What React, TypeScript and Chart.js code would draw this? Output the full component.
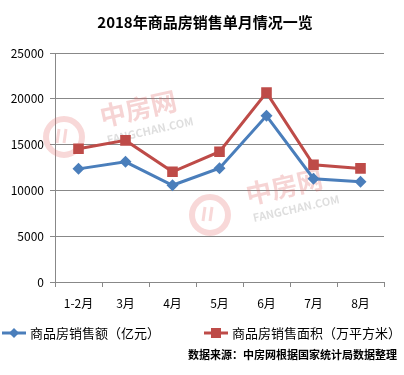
import React, { useEffect, useRef } from "react";
import { Chart, registerables } from "chart.js";

Chart.register(...registerables);

const title = "2018年商品房销售单月情况一览";
const categories = ["1-2月", "3月", "4月", "5月", "6月", "7月", "8月"];
const salesAmount = [12350, 13120, 10560, 12420, 18150, 11280, 10950];
const salesArea = [14550, 15460, 12030, 14220, 20670, 12800, 12400];
const seriesNames = ["商品房销售额（亿元）", "商品房销售面积（万平方米）"];
const yTicks = [0, 5000, 10000, 15000, 20000, 25000];
const sourceNote = "数据来源：中房网根据国家统计局数据整理";

const FONT = "'Noto Sans CJK SC', 'Noto Sans', sans-serif";
const BLUE = "#4A7EBB";
const RED = "#BE4B48";

function drawWatermark(ctx: CanvasRenderingContext2D, cx: number, cy: number) {
  ctx.save();
  ctx.globalAlpha = 0.28;
  ctx.strokeStyle = "#E57373";
  ctx.lineWidth = 6;
  ctx.beginPath();
  ctx.arc(cx, cy, 18, 0, Math.PI * 2);
  ctx.stroke();
  ctx.lineWidth = 3;
  ctx.beginPath();
  ctx.moveTo(cx - 5, cy - 8);
  ctx.lineTo(cx - 7, cy + 6);
  ctx.moveTo(cx + 2, cy - 8);
  ctx.lineTo(cx, cy + 6);
  ctx.stroke();
  ctx.translate(cx + 28, cy - 10);
  ctx.rotate(-0.22);
  ctx.font = `bold 26px ${FONT}`;
  ctx.textAlign = "left";
  ctx.textBaseline = "middle";
  ctx.fillStyle = "#E06666";
  ctx.fillText("中房网", 10, -8);
  ctx.font = `bold 11px ${FONT}`;
  ctx.fillStyle = "#888";
  ctx.fillText("FANGCHAN.COM", 12, 16);
  ctx.restore();
}

const decorPlugin = {
  id: "decor",
  beforeDatasetsDraw(chart: any) {
    const ctx = chart.ctx as CanvasRenderingContext2D;
    drawWatermark(ctx, 64, 137);
    drawWatermark(ctx, 210, 215);
  },
  afterDraw(chart: any) {
    const ctx = chart.ctx as CanvasRenderingContext2D;
    ctx.save();
    ctx.fillStyle = "#000";
    ctx.font = `bold 15px ${FONT}`;
    ctx.textAlign = "center";
    ctx.textBaseline = "middle";
    ctx.fillText(title, 205, 22);
    const ds = chart.data.datasets;
    const items = [
      { x: 2, color: BLUE, style: "diamond", label: ds[0].label },
      { x: 204, color: RED, style: "square", label: ds[1].label },
    ];
    const ly = 333;
    items.forEach((it) => {
      ctx.strokeStyle = it.color;
      ctx.lineWidth = 3;
      ctx.beginPath();
      ctx.moveTo(it.x, ly);
      ctx.lineTo(it.x + 24, ly);
      ctx.stroke();
      ctx.fillStyle = it.color;
      const mx = it.x + 12;
      if (it.style === "diamond") {
        ctx.beginPath();
        ctx.moveTo(mx, ly - 5);
        ctx.lineTo(mx + 5, ly);
        ctx.lineTo(mx, ly + 5);
        ctx.lineTo(mx - 5, ly);
        ctx.closePath();
        ctx.fill();
      } else {
        ctx.fillRect(mx - 5, ly - 5, 10, 10);
      }
      ctx.fillStyle = "#000";
      ctx.font = `13px ${FONT}`;
      ctx.textAlign = "left";
      ctx.textBaseline = "middle";
      ctx.fillText(it.label, it.x + 28, ly);
    });
    ctx.font = `bold 11px ${FONT}`;
    ctx.textAlign = "right";
    ctx.fillStyle = "#000";
    ctx.fillText(sourceNote, 397, 355);
    ctx.restore();
  },
};

export default function App() {
  const ref = useRef<HTMLCanvasElement>(null);
  useEffect(() => {
    document.body.style.margin = "0";
    const chart = new Chart(ref.current!, {
      type: "line",
      data: {
        labels: categories,
        datasets: [
          {
            label: seriesNames[0],
            data: salesAmount,
            borderColor: BLUE,
            backgroundColor: BLUE,
            borderWidth: 3,
            pointStyle: "rectRot",
            pointRadius: 6,
            pointBorderWidth: 0,
            tension: 0,
          },
          {
            label: seriesNames[1],
            data: salesArea,
            borderColor: RED,
            backgroundColor: RED,
            borderWidth: 3,
            pointStyle: "rect",
            pointRadius: 7.5,
            pointBorderWidth: 0,
            tension: 0,
          },
        ],
      },
      options: {
        responsive: false,
        animation: false,
        layout: { padding: { top: 53, left: 0, right: 20, bottom: 63 } },
        plugins: {
          legend: { display: false },
          title: { display: false },
          tooltip: { enabled: false },
        },
        scales: {
          x: {
            offset: true,
            grid: {
              offset: true,
              drawOnChartArea: false,
              drawTicks: true,
              tickLength: 5,
              color: "#888",
            },
            border: { color: "#888", width: 1 },
            ticks: {
              color: "#000",
              font: { family: FONT, size: 12 },
              padding: 9,
            },
            afterFit: (s: any) => {
              s.height = 30;
            },
          },
          y: {
            min: 0,
            max: 25000,
            afterBuildTicks: (s: any) => {
              s.ticks = yTicks.map((v) => ({ value: v }));
            },
            grid: { color: "#888", tickLength: 5, lineWidth: 1 },
            border: { color: "#888", width: 1 },
            ticks: {
              color: "#000",
              font: { family: FONT, size: 12 },
              padding: 6,
              callback: (v: any) => String(v),
            },
            afterFit: (s: any) => {
              s.width = 55;
            },
          },
        },
      },
      plugins: [decorPlugin],
    });
    return () => chart.destroy();
  }, []);
  return <canvas ref={ref} width={404} height={375} style={{ display: "block" }} />;
}
